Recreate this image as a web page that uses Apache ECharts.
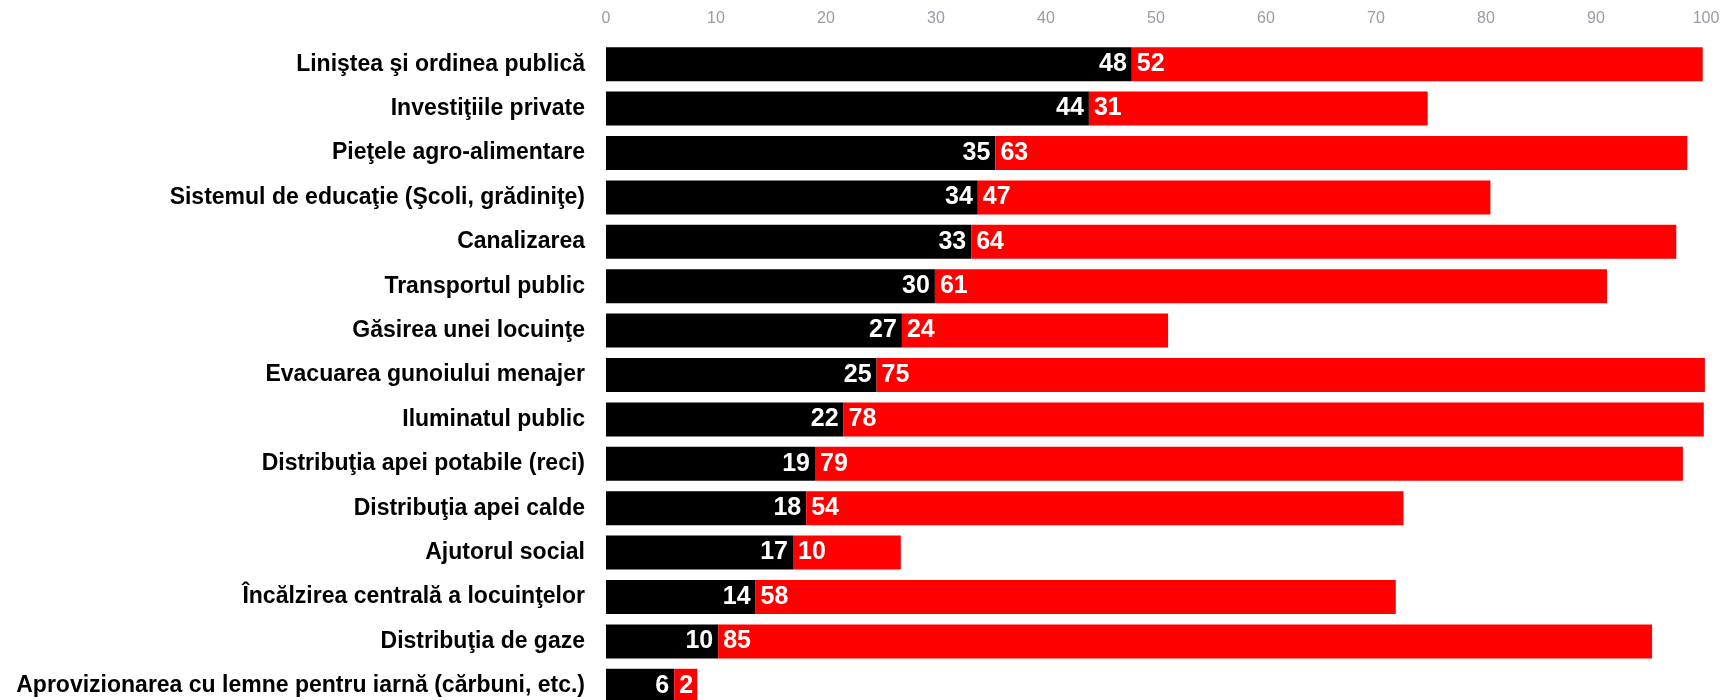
<!DOCTYPE html>
<html>
<head>
<meta charset="utf-8">
<script src="https://cdn.jsdelivr.net/npm/echarts@6/dist/echarts.min.js"></script>
<style>
html,body{margin:0;padding:0;background:#fff;overflow:hidden;}
#chart{width:1731px;height:708px;}
</style>
</head>
<body>
<div id="chart"></div>
<script>
const categories = [
  "Liniştea şi ordinea publică",
  "Investiţiile private",
  "Pieţele agro-alimentare",
  "Sistemul de educaţie (Şcoli, grădiniţe)",
  "Canalizarea",
  "Transportul public",
  "Găsirea unei locuinţe",
  "Evacuarea gunoiului menajer",
  "Iluminatul public",
  "Distribuţia apei potabile (reci)",
  "Distribuţia apei calde",
  "Ajutorul social",
  "Încălzirea centrală a locuinţelor",
  "Distribuţia de gaze",
  "Aprovizionarea cu lemne pentru iarnă (cărbuni, etc.)"
];
const blackValues = [47.8, 43.9, 35.4, 33.8, 33.2, 29.9, 26.9, 24.6, 21.6, 19.0, 18.2, 17.0, 13.6, 10.2, 6.2];
const redValues   = [51.9, 30.8, 62.9, 46.6, 64.1, 61.1, 24.2, 75.3, 78.2, 78.9, 54.3, 9.8, 58.2, 84.9, 2.1];
const xTicks = [0, 10, 20, 30, 40, 50, 60, 70, 80, 90, 100];

const chart = echarts.init(document.getElementById('chart'), null, {renderer: 'canvas'});
const valueLabel = (pos) => ({
  show: true,
  position: pos,
  distance: 5,
  color: '#ffffff',
  fontFamily: "'Liberation Sans', Arial, sans-serif",
  fontWeight: 'bold',
  fontSize: 25,
  formatter: (p) => String(Math.round(p.value))
});
chart.setOption({
  animation: false,
  backgroundColor: '#ffffff',
  grid: {left: 606, right: 25, top: 42, bottom: 0, containLabel: false},
  xAxis: {
    type: 'value',
    position: 'top',
    min: xTicks[0],
    max: xTicks[xTicks.length - 1],
    interval: 10,
    axisLine: {show: false},
    axisTick: {show: false},
    splitLine: {show: false},
    axisLabel: {
      margin: 15,
      color: '#9a9aa6',
      fontFamily: "'Liberation Sans Narrow', 'Liberation Sans', Arial, sans-serif",
      fontSize: 16
    }
  },
  yAxis: {
    type: 'category',
    data: categories,
    inverse: true,
    axisLine: {show: false},
    axisTick: {show: false},
    splitLine: {show: false},
    axisLabel: {
      margin: 21,
      color: '#000000',
      fontFamily: "'Liberation Sans', Arial, sans-serif",
      fontWeight: 'bold',
      fontSize: 23
    }
  },
  series: [
    {
      type: 'bar',
      stack: 'total',
      data: blackValues,
      barCategoryGap: '23.4%',
      itemStyle: {color: '#000000'},
      label: valueLabel('insideRight')
    },
    {
      type: 'bar',
      stack: 'total',
      data: redValues,
      barCategoryGap: '23.4%',
      itemStyle: {color: '#ff0000'},
      label: valueLabel('insideLeft')
    }
  ]
});
</script>
</body>
</html>
